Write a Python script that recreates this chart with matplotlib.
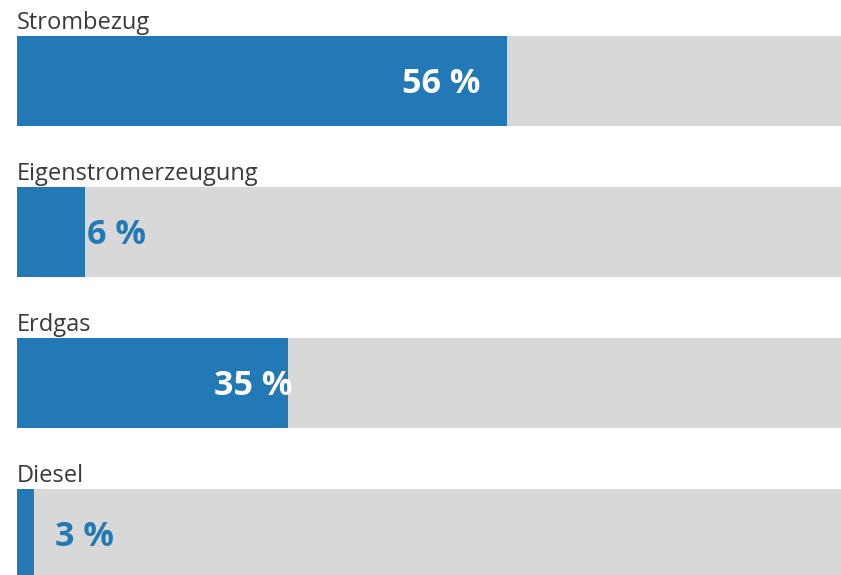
import matplotlib.pyplot as plt

categories = ['Strombezug', 'Eigenstromerzeugung', 'Erdgas', 'Diesel']
shares = [56, 6, 35, 3]
# bar length as seen in the picture, in % of the visible grey track
bar_lengths = [59.5, 8.25, 32.9, 2.06]

blue = '#2379b5'
grey = '#d8d8d8'

plt.rcParams['font.family'] = ['Open Sans', 'DejaVu Sans']

fig = plt.figure(figsize=(8.41, 5.75), dpi=100)
ax = fig.add_axes([17 / 841, 0, 1 - 17 / 841, 1])

ypos = list(range(len(categories)))
ax.barh(ypos, [100] * len(ypos), height=0.596, color=grey, edgecolor='none')
ax.barh(ypos, bar_lengths, height=0.596, color=blue, edgecolor='none')

for i, (cat, share, length) in enumerate(zip(categories, shares, bar_lengths)):
    ax.text(0, i - 0.345, cat, fontsize=17, color='#3a3a3a', va='baseline', ha='left')
    if share > 20:
        # inside the bar, white
        off = -27 if share > 50 else 4
        ax.annotate(f'{share} %', (length, i), xytext=(off, -3), textcoords='offset pixels',
                    ha='right', va='center', fontsize=24.5, fontweight='bold', color='white')
    else:
        off = 2 if share > 4 else 21
        ax.annotate(f'{share} %', (length, i), xytext=(off, -3), textcoords='offset pixels',
                    ha='left', va='center', fontsize=24.5, fontweight='bold', color=blue)

ax.set_xlim(0, 100)
ax.set_ylim(3.272, -0.536)
ax.axis('off')

plt.savefig('out.png', dpi=100)
